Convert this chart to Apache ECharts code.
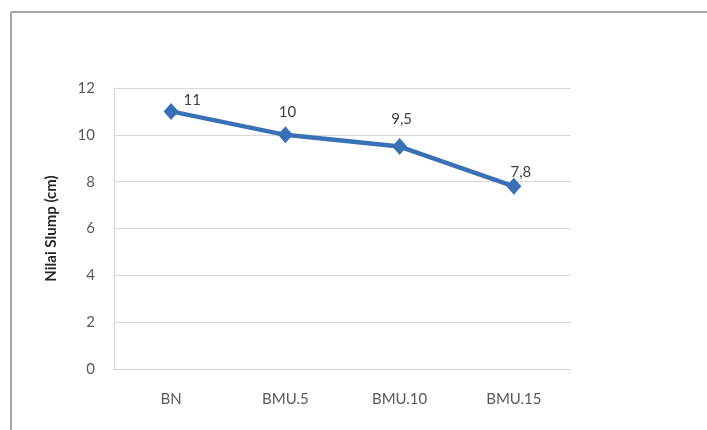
<!DOCTYPE html>
<html>
<head>
<meta charset="utf-8">
<script src="https://cdn.jsdelivr.net/npm/echarts@6/dist/echarts.min.js"></script>
<style>
html,body{margin:0;padding:0;background:#fff;}
#c{width:707px;height:430px;}
</style>
</head>
<body>
<div id="c"></div>
<script>
var categories = ['BN', 'BMU.5', 'BMU.10', 'BMU.15'];
var slumpValues = [11, 10, 9.5, 7.8];
var valueLabels = ['11', '10', '9,5', '7,8'];
var yTicks = [0, 2, 4, 6, 8, 10, 12];

var labelOffsets = [[21, 15], [2, 3], [2, -1], [7, 12]];

var chart = echarts.init(document.getElementById('c'));
var seriesData = slumpValues.map(function (v, i) {
  return {
    value: v,
    label: { offset: labelOffsets[i], formatter: valueLabels[i] }
  };
});

chart.setOption({
  backgroundColor: '#ffffff',
  animation: false,
  textStyle: { fontFamily: 'Lato, "Liberation Sans", sans-serif' },
  graphic: [
    { type: 'line', shape: { x1: 11, y1: 12, x2: 707, y2: 12 }, style: { stroke: '#a6a6a6', lineWidth: 2 } },
    { type: 'line', shape: { x1: 11, y1: 12, x2: 11, y2: 430 }, style: { stroke: '#a6a6a6', lineWidth: 2 } }
  ],
  grid: { left: 114, right: 136, top: 88, bottom: 61, containLabel: false },
  xAxis: {
    type: 'category',
    data: categories,
    boundaryGap: true,
    axisLine: { show: true, lineStyle: { color: '#d0d0d0', width: 1 } },
    axisTick: { show: false },
    axisLabel: { color: '#595959', fontSize: 15, margin: 23 }
  },
  yAxis: {
    type: 'value',
    min: yTicks[0],
    max: yTicks[yTicks.length - 1],
    interval: 2,
    name: 'Nilai Slump (cm)',
    nameLocation: 'middle',
    nameGap: 55,
    nameRotate: 90,
    nameTextStyle: { color: '#262626', fontSize: 15, fontWeight: 'bold' },
    axisLine: { show: true, lineStyle: { color: '#d0d0d0', width: 1 } },
    axisTick: { show: false },
    axisLabel: { color: '#595959', fontSize: 15, margin: 19 },
    splitLine: { show: true, lineStyle: { color: '#d9d9d9', width: 1 } }
  },
  series: [{
    type: 'line',
    data: seriesData,
    symbol: 'diamond',
    symbolSize: [15, 17],
    itemStyle: { color: '#3a70b6' },
    lineStyle: { color: '#3a70b6', width: 4.5 },
    label: {
      show: true,
      position: 'top',
      distance: 10,
      color: '#404040',
      fontSize: 15
    }
  }]
});
</script>
</body>
</html>
